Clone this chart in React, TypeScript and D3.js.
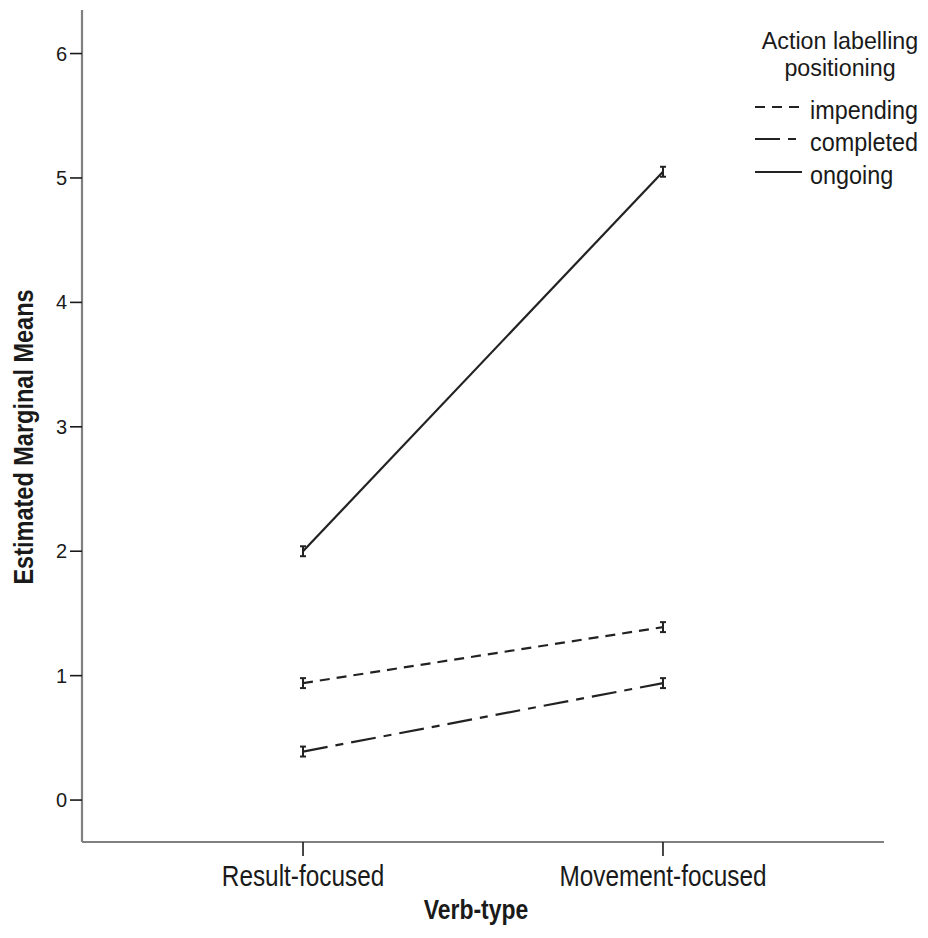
import React from "react";
import { scaleLinear, scalePoint, line } from "d3";

// categories on the x axis
const verbTypes = ["Result-focused", "Movement-focused"];
// series in legend order
const seriesNames = ["impending", "completed", "ongoing"];
// estimated marginal means per series (Result, Movement)
const impending = [0.94, 1.39];
const completed = [0.39, 0.94];
const ongoing = [2.0, 5.05];
// half width of the error bars
const impendingErr = [0.04, 0.04];
const completedErr = [0.04, 0.04];
const ongoingErr = [0.04, 0.04];
const yTicks = [0, 1, 2, 3, 4, 5, 6];

const width = 928,
  height = 938;

const dashes: Record<string, string> = {
  impending: "10,7",
  completed: "25,8,8,8",
  ongoing: "none"
};

const font = "Arial, 'Liberation Sans', sans-serif";
const ink = "#1a1a1a";

// SPSS text looks horizontally squeezed
function SqText({ x, y, size, anchor, weight, children, sx = 0.84 }: any) {
  return (
    <g transform={`translate(${x},${y}) scale(${sx},1)`}>
      <text
        textAnchor={anchor}
        fontSize={size}
        fontWeight={weight}
        fontFamily={font}
        fill={ink}
      >
        {children}
      </text>
    </g>
  );
}

export default function App() {
  const left = 82,
    right = 884,
    axisY = 842;

  const x = scalePoint<string>()
    .domain(verbTypes)
    .range([left, right])
    .padding(0.614);

  const y = scaleLinear().domain([-0.337, 6.35]).range([axisY, 10]);

  const series = [
    { name: "impending", values: impending, errs: impendingErr },
    { name: "completed", values: completed, errs: completedErr },
    { name: "ongoing", values: ongoing, errs: ongoingErr }
  ];

  const path = line<number>()
    .x((_, i) => x(verbTypes[i]) as number)
    .y(d => y(d));

  const legendX = 755,
    legendY = [107, 139, 172];

  return (
    <svg
      width={width}
      height={height}
      style={{ position: "absolute", left: 0, top: 0, background: "#fff" }}
    >
      {/* y axis */}
      <line x1={left} x2={left} y1={y(6.35)} y2={axisY} stroke="#808080" strokeWidth={2.2} />
      {yTicks.map(t => (
        <g key={t}>
          <line x1={left - 12} x2={left} y1={y(t)} y2={y(t)} stroke={ink} strokeWidth={1.6} />
          <text
            x={67}
            y={y(t) + 7}
            textAnchor="end"
            fontSize={20}
            fontFamily={font}
            fill={ink}
          >
            {t}
          </text>
        </g>
      ))}

      {/* x axis */}
      <line x1={left} x2={right} y1={axisY} y2={axisY} stroke="#808080" strokeWidth={2.2} />
      {verbTypes.map(v => (
        <g key={v}>
          <line
            x1={x(v)}
            x2={x(v)}
            y1={axisY}
            y2={axisY + 14}
            stroke={ink}
            strokeWidth={1.6}
          />
          <SqText x={x(v)} y={886} size={29} anchor="middle">
            {v}
          </SqText>
        </g>
      ))}

      {/* axis titles */}
      <SqText x={476} y={919} size={28} anchor="middle" weight="bold" sx={0.82}>
        Verb-type
      </SqText>
      <g transform={`translate(33,437) rotate(-90)`}>
        <SqText x={0} y={0} size={28} anchor="middle" weight="bold" sx={0.84}>
          Estimated Marginal Means
        </SqText>
      </g>

      {/* lines */}
      {series.map(s => (
        <g key={s.name}>
          <path
            d={path(s.values) as string}
            fill="none"
            stroke="#222"
            strokeWidth={2.2}
            strokeDasharray={dashes[s.name]}
          />
          {s.values.map((v, i) => {
            const cx = x(verbTypes[i]) as number;
            const y0 = y(v - s.errs[i]);
            const y1 = y(v + s.errs[i]);
            return (
              <g key={i} stroke="#222" strokeWidth={2}>
                <line x1={cx} x2={cx} y1={y0} y2={y1} />
                <line x1={cx - 3} x2={cx + 3} y1={y0} y2={y0} />
                <line x1={cx - 3} x2={cx + 3} y1={y1} y2={y1} />
              </g>
            );
          })}
        </g>
      ))}

      {/* legend */}
      <SqText x={840} y={49} size={24} anchor="middle" sx={0.97}>
        Action labelling
      </SqText>
      <SqText x={840} y={76} size={24} anchor="middle" sx={0.97}>
        positioning
      </SqText>
      {seriesNames.map((n, i) => (
        <g key={n}>
          <line
            x1={legendX}
            x2={legendX + 47}
            y1={legendY[i]}
            y2={legendY[i]}
            stroke="#222"
            strokeWidth={2.2}
            strokeDasharray={dashes[n]}
          />
          <SqText x={810} y={legendY[i] + 12} size={26} anchor="start" sx={0.9}>
            {n}
          </SqText>
        </g>
      ))}
    </svg>
  );
}
